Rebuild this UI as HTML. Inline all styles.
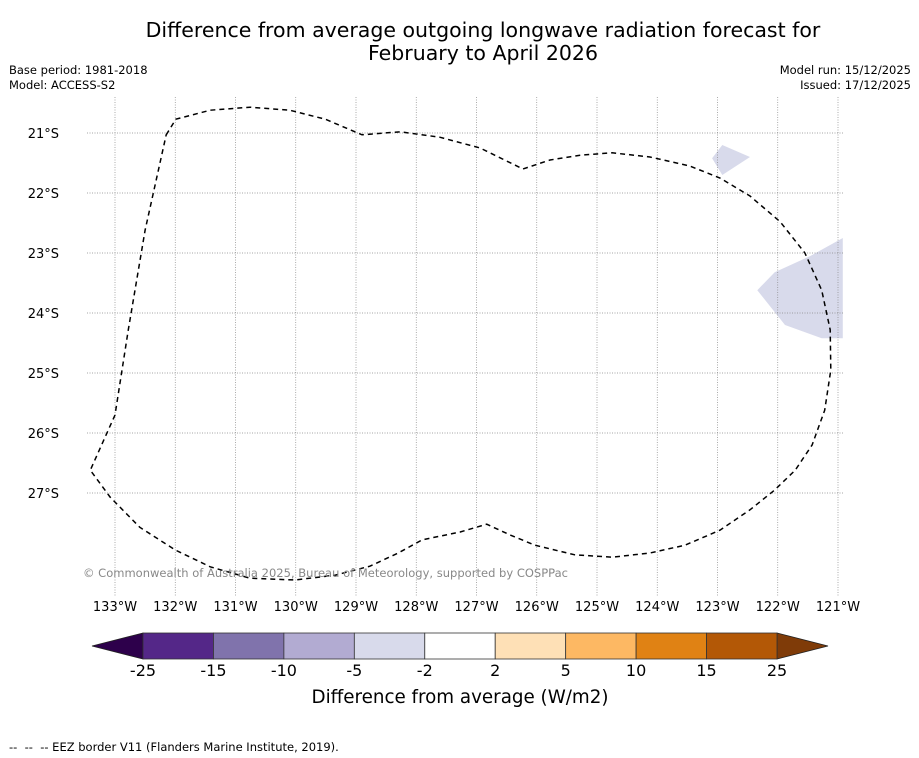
<!DOCTYPE html>
<html><head><meta charset="utf-8">
<style>
body{margin:0;background:#fff;font-family:"DejaVu Sans","Liberation Sans",sans-serif;}
#wrap{position:relative;width:919px;height:758px;overflow:hidden;background:#fff}
.t{position:absolute;white-space:pre;color:#000}
</style></head>
<body>
<div id="wrap">
<div class="t" style="left:0;width:966px;top:19px;text-align:center;font-size:20.5px;line-height:23px">Difference from average outgoing longwave radiation forecast for
February to April 2026</div>
<div class="t" style="left:9px;top:63px;font-size:11.5px;line-height:15px">Base period: 1981-2018
Model: ACCESS-S2</div>
<div class="t" style="right:8px;top:63px;font-size:11.5px;line-height:15px;text-align:right">Model run: 15/12/2025
Issued: 17/12/2025</div>
<div class="t" style="left:9px;top:740px;font-size:11.5px">--  --  -- EEZ border V11 (Flanders Marine Institute, 2019).</div>
<svg id="svg" width="919" height="758" style="position:absolute;left:0;top:0"></svg>
</div>
<script>
const lonTicks=[-133,-132,-131,-130,-129,-128,-127,-126,-125,-124,-123,-122,-121];
const latTicks=[-21,-22,-23,-24,-25,-26,-27];
const eezLon=[-132.15,-131.99,-131.42,-130.76,-130.10,-129.51,-128.90,-128.27,-127.61,-126.94,-126.23,-125.78,-125.28,-124.75,-124.12,-123.46,-122.96,-122.46,-121.96,-121.55,-121.27,-121.13,-121.12,-121.22,-121.43,-121.71,-122.05,-122.46,-122.96,-123.54,-124.12,-124.75,-125.37,-126.03,-126.44,-126.83,-127.27,-127.90,-128.30,-128.77,-129.35,-130.01,-130.76,-131.42,-132.00,-132.59,-133.08,-133.41,-133.0,-132.78,-132.50,-132.15];
const eezLat=[-21.03,-20.77,-20.62,-20.57,-20.62,-20.77,-21.03,-20.98,-21.07,-21.25,-21.6,-21.45,-21.37,-21.33,-21.4,-21.55,-21.75,-22.05,-22.48,-23.0,-23.62,-24.28,-24.95,-25.62,-26.2,-26.62,-26.95,-27.28,-27.62,-27.87,-28.0,-28.07,-28.03,-27.87,-27.7,-27.52,-27.65,-27.78,-28.0,-28.22,-28.37,-28.45,-28.42,-28.23,-27.95,-27.57,-27.07,-26.62,-25.7,-24.28,-22.62,-21.03];
const anomA_lon=[-123.09,-122.92,-122.46,-122.92];
const anomA_lat=[-21.42,-21.2,-21.4,-21.7];
const anomB_lon=[-122.34,-122.05,-121.46,-120.92,-120.92,-121.27,-121.88];
const anomB_lat=[-23.62,-23.32,-23.05,-22.75,-24.42,-24.42,-24.2];
const cbBounds=[-25,-15,-10,-5,-2,2,5,10,15,25];
const cbColors=['#542788','#8073ac','#b2abd2','#d8daeb','#ffffff','#fee0b6','#fdb863','#e08214','#b35806'];
const cbLow='#2d004b', cbHigh='#7f3b08';

const NS='http://www.w3.org/2000/svg';
const svg=document.getElementById('svg');
const X=lon=>115+(lon+133)*60.25;
const Y=lat=>133+(-21-lat)*60;
const L=87,R=843,T=97,B=597;
function mk(t,a,p){const e=document.createElementNS(NS,t);for(const k in a)e.setAttribute(k,a[k]);(p||svg).appendChild(e);return e;}
const defs=mk('defs',{});
const cp=mk('clipPath',{id:'mapclip'},defs);
mk('rect',{x:L,y:T,width:R-L,height:B-T},cp);
const g=mk('g',{'clip-path':'url(#mapclip)'});


function poly(lons,lats,attrs,name){
  const pts=lons.map((v,i)=>X(v).toFixed(1)+','+Y(lats[i]).toFixed(1)).join(' ');
  const e=mk('polygon',Object.assign({points:pts},attrs),g);
  
  
  return e;
}
poly(anomA_lon,anomA_lat,{fill:'#d8daeb'},'anomaly-region-small');
poly(anomB_lon,anomB_lat,{fill:'#d8daeb'},'anomaly-region-large');
lonTicks.forEach(v=>{
  const l=mk('line',{x1:X(v),x2:X(v),y1:T,y2:B,stroke:'#888','stroke-width':0.7,'stroke-dasharray':'1,1.5'},g);
  
  
  const t=mk('text',{x:X(v),y:611,'text-anchor':'middle','font-size':13,'font-family':'DejaVu Sans,sans-serif'});
  t.textContent=Math.abs(v)+'°W';
  
  
});
latTicks.forEach(v=>{
  const l=mk('line',{x1:L,x2:R,y1:Y(v),y2:Y(v),stroke:'#888','stroke-width':0.7,'stroke-dasharray':'1,1.5'},g);
  
  
  const t=mk('text',{x:59,y:Y(v)+5,'text-anchor':'end','font-size':13,'font-family':'DejaVu Sans,sans-serif'});
  t.textContent=Math.abs(v)+'°S';
  
  
});
poly(eezLon,eezLat,{fill:'none',stroke:'#000','stroke-width':1.5,'stroke-dasharray':'5,4'},'eez-border');
const cr=mk('text',{x:83,y:577,'font-size':11.5,fill:'#888','font-family':'DejaVu Sans,sans-serif',textLength:485});
cr.textContent='© Commonwealth of Australia 2025, Bureau of Meteorology, supported by COSPPac';



const cbL=143,cbR=777,cbT=633,cbB=659,n=cbBounds.length-1,w=(cbR-cbL)/n;
const cb=mk('g',{});


const lo=mk('polygon',{points:`${cbL},${cbT} 92,${(cbT+cbB)/2} ${cbL},${cbB}`,fill:cbLow,stroke:'#222','stroke-width':0.8},cb);


const hi=mk('polygon',{points:`${cbR},${cbT} 828,${(cbT+cbB)/2} ${cbR},${cbB}`,fill:cbHigh,stroke:'#222','stroke-width':0.8},cb);


cbColors.forEach((c,i)=>{
  const r=mk('rect',{x:cbL+i*w,y:cbT,width:w,height:cbB-cbT,fill:c,stroke:'#333','stroke-width':0.8},cb);
  
  
});
cbBounds.forEach((b,i)=>{
  const t=mk('text',{x:cbL+i*w,y:676,'text-anchor':'middle','font-size':16,'font-family':'DejaVu Sans,sans-serif'},cb);
  t.textContent=b;
  
  
});
const ct=mk('text',{x:460,y:703,'text-anchor':'middle','font-size':18.3,'font-family':'DejaVu Sans,sans-serif'},cb);
ct.textContent='Difference from average (W/m2)';


</script>
</body></html>
